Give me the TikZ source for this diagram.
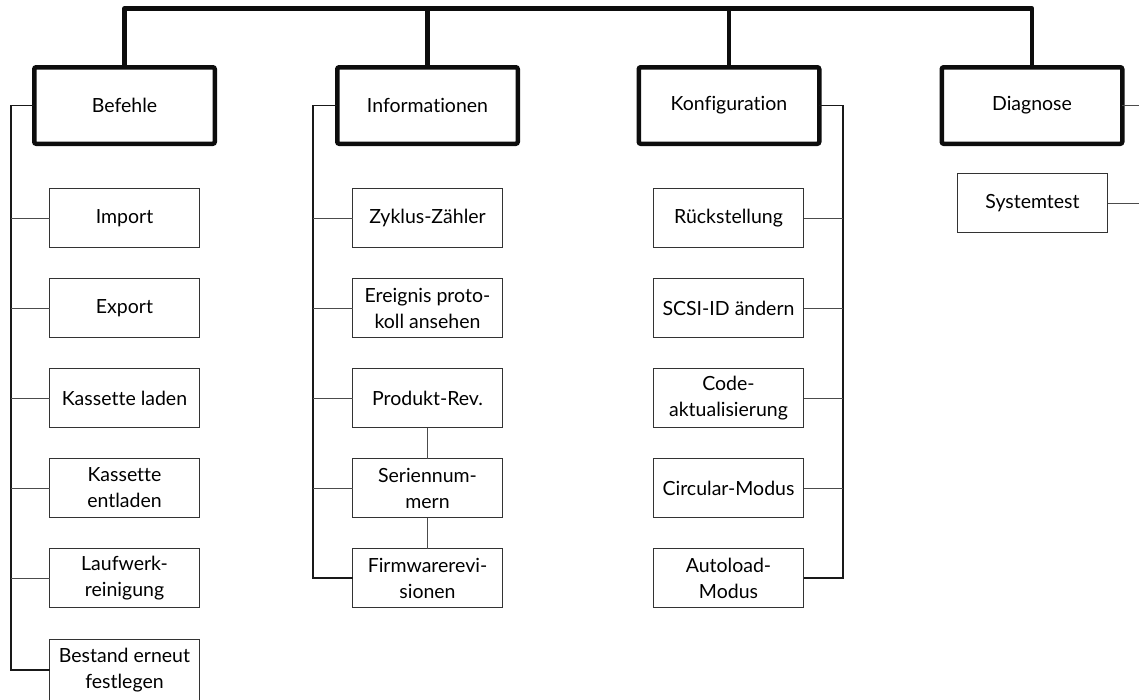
\documentclass[tikz,border=0pt]{standalone}
\usepackage{fontspec}
\setmainfont[Ligatures=NoCommon]{Lato}
\begin{document}
\begin{tikzpicture}[x=1pt,y=-1pt,
  topbox/.style={draw=black!95, line width=4.5pt, rounded corners=2pt, minimum width=180.5pt, minimum height=76.5pt, inner sep=0pt, outer sep=0pt, font=\fontsize{19.5}{26}\selectfont},
  subbox/.style={draw=black!80, line width=1pt, minimum width=150pt, minimum height=59pt, inner sep=0pt, outer sep=0pt, align=center, font=\fontsize{19.5}{26}\selectfont},
  barline/.style={line width=4.5pt, line join=round, black!95},
  trunk/.style={line width=1.3pt, black!90},
  branch/.style={line width=1pt, black!70}]
\useasboundingbox (0,0) rectangle (1139,699);

% top-level boxes
\node[topbox] (bef) at (124.5,105.5) {Befehle};
\node[topbox] (inf) at (427.5,105.5) {Informationen};
\node[topbox] (kon) at (729,105.5) {Konfiguration};
\node[topbox] (dia) at (1032,105.5) {Diagnose};

\coordinate (barY) at (0,8.5);
\draw[barline] (bef.north) -- (bef.north |- barY) -| (dia.north);
\draw[barline] (inf.north) -- (inf.north |- barY);
\draw[barline] (kon.north) -- (kon.north |- barY);

% Befehle
\node[subbox] (b1) at (124.5,218) {Import};
\node[subbox] (b2) at (124.5,308) {Export};
\node[subbox] (b3) at (124.5,398) {Kassette laden};
\node[subbox] (b4) at (124.5,488) {Kassette\\entladen};
\node[subbox] (b5) at (124.5,578) {Laufwerk-\\reinigung};
\node[subbox, minimum height=61pt] (b6) at (124.5,670) {Bestand erneut\\festlegen};

% Informationen
\node[subbox] (i1) at (427.5,218) {Zyklus-Zähler};
\node[subbox] (i2) at (427.5,308) {Ereignis proto-\\koll ansehen};
\node[subbox] (i3) at (427.5,398) {Produkt-Rev.};
\node[subbox] (i4) at (427.5,488) {Seriennum-\\mern};
\node[subbox] (i5) at (427.5,578) {Firmwarerevi-\\sionen};

% Konfiguration
\node[subbox] (k1) at (728.5,218) {Rückstellung};
\node[subbox] (k2) at (728.5,308) {SCSI-ID ändern};
\node[subbox] (k3) at (728.5,398) {Code-\\aktualisierung};
\node[subbox] (k4) at (728.5,488) {Circular-Modus};
\node[subbox] (k5) at (728.5,578) {Autoload-\\Modus};

% Diagnose
\node[subbox] (sys) at (1032.5,203) {Systemtest};

% trunks and branches
\coordinate (bT) at (11,106);
\draw[trunk] (bef.west) -- (bef.west -| bT) -- (bT |- b6.west) -- (b6.west);
\foreach \n in {b1,b2,b3,b4,b5} \draw[branch] (bT |- \n.west) -- (\n.west);

\coordinate (iT) at (313,106);
\draw[trunk] (inf.west) -- (inf.west -| iT) -- (iT |- i5.west) -- (i5.west);
\foreach \n in {i1,i2,i3,i4} \draw[branch] (iT |- \n.west) -- (\n.west);
\draw[branch] (i3.south) -- (i4.north);
\draw[branch] (i4.south) -- (i5.north);

\coordinate (kT) at (843,106);
\draw[trunk] (kon.east) -- (kon.east -| kT) -- (kT |- k5.east) -- (k5.east);
\foreach \n in {k1,k2,k3,k4} \draw[branch] (kT |- \n.east) -- (\n.east);

\coordinate (dE) at (1139,0);
\draw[branch] (dia.east) -- (dia.east -| dE);
\draw[branch] (sys.east) -- (sys.east -| dE);
\end{tikzpicture}
\end{document}
